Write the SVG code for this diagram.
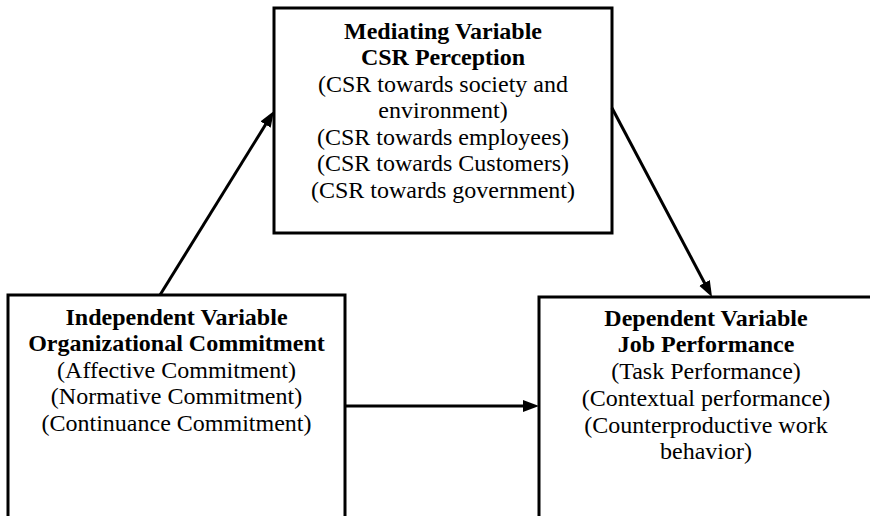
<svg xmlns="http://www.w3.org/2000/svg" width="870" height="516" viewBox="0 0 870 516">
<style>
.box{fill:#ffffff;stroke:#000000;stroke-width:3}
.t{font-family:"Liberation Serif","Times New Roman",serif;font-size:24px;fill:#000000;text-anchor:middle}
.b{font-weight:bold}
.c{stroke:#000000;stroke-width:3;fill:none}
</style>
<defs>
<marker id="ah" markerUnits="userSpaceOnUse" markerWidth="17" markerHeight="13" refX="10" refY="6" orient="auto">
<path d="M0,0 L16,6 L0,12 z" fill="#000000"/>
</marker>
</defs>
<rect width="870" height="516" fill="#ffffff"/>
<g id="mediating">
<rect class="box" x="274" y="8" width="338" height="225"/>
<text class="t b" x="443" y="39">Mediating Variable</text>
<text class="t b" x="443" y="65">CSR Perception</text>
<text class="t" x="443" y="92">(CSR towards society and</text>
<text class="t" x="443" y="118">environment)</text>
<text class="t" x="443" y="145">(CSR towards employees)</text>
<text class="t" x="443" y="171">(CSR towards Customers)</text>
<text class="t" x="443" y="198">(CSR towards government)</text>
</g>
<g id="independent">
<rect class="box" x="8" y="295" width="337" height="240"/>
<text class="t b" x="176.5" y="325">Independent Variable</text>
<text class="t b" x="176.5" y="351">Organizational Commitment</text>
<text class="t" x="176.5" y="378">(Affective Commitment)</text>
<text class="t" x="176.5" y="404">(Normative Commitment)</text>
<text class="t" x="176.5" y="431">(Continuance Commitment)</text>
</g>
<g id="dependent">
<rect class="box" x="539" y="297" width="345" height="240"/>
<text class="t b" x="706" y="326">Dependent Variable</text>
<text class="t b" x="706" y="352">Job Performance</text>
<text class="t" x="706" y="379">(Task Performance)</text>
<text class="t" x="706" y="406">(Contextual performance)</text>
<text class="t" x="706" y="433">(Counterproductive work</text>
<text class="t" x="706" y="459">behavior)</text>
</g>
<g id="connectors">
<line class="c" x1="160" y1="295" x2="270.8" y2="116.1" marker-end="url(#ah)"/>
<line class="c" x1="612" y1="108" x2="709.2" y2="291.7" marker-end="url(#ah)"/>
<line class="c" x1="345" y1="406" x2="533" y2="406" marker-end="url(#ah)"/>
</g>
</svg>
